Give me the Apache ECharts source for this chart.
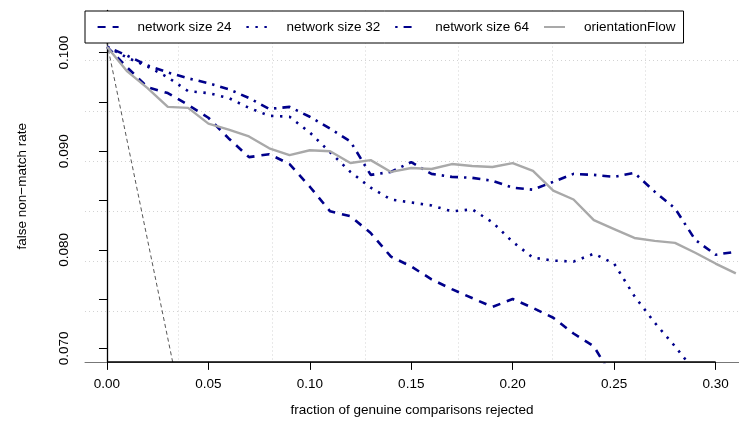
<!DOCTYPE html>
<html><head><meta charset="utf-8">
<script src="https://cdn.jsdelivr.net/npm/echarts@6/dist/echarts.min.js"></script>
<style>html,body{margin:0;padding:0;background:#fff}#c{width:739px;height:430px}</style>
</head><body><div id="c"></div>
<script>
// fraction of genuine comparisons rejected
const xs = [0.00,0.01,0.02,0.03,0.04,0.05,0.06,0.07,0.08,0.09,0.10,0.11,0.12,0.13,0.14,0.15,0.16,0.17,0.18,0.19,0.20,0.21,0.22,0.23,0.24,0.25,0.26,0.27,0.28,0.29,0.30,0.31];
// false non-match rate per series
const net24 = [0.1006,0.0985,0.0965,0.0959,0.0947,0.0934,0.0913,0.0894,0.0897,0.0887,0.0864,0.0839,0.0834,0.0817,0.0793,0.0783,0.0770,0.0760,0.0751,0.0742,0.0750,0.0741,0.0731,0.0715,0.0702,0.0668];
const net32 = [0.1006,0.0995,0.0986,0.0975,0.0961,0.0959,0.0954,0.0944,0.0936,0.0935,0.0919,0.0899,0.0879,0.0863,0.0851,0.0848,0.0845,0.0839,0.0841,0.0828,0.0808,0.0792,0.0789,0.0788,0.0796,0.0786,0.0753,0.0726,0.0702,0.0676];
const net64 = [0.1006,0.0997,0.0987,0.0980,0.0974,0.0969,0.0963,0.0954,0.0943,0.0945,0.0935,0.0923,0.0910,0.0876,0.0879,0.0889,0.0877,0.0874,0.0873,0.0870,0.0863,0.0861,0.0869,0.0877,0.0876,0.0874,0.0878,0.0859,0.0842,0.0810,0.0795,0.0798];
const orientationFlow = [0.1006,0.0981,0.0964,0.0945,0.0944,0.0928,0.0922,0.0915,0.0903,0.0896,0.0901,0.0900,0.0888,0.0891,0.0879,0.0883,0.0882,0.0887,0.0885,0.0884,0.0888,0.0880,0.0860,0.0851,0.0830,0.0821,0.0812,0.0809,0.0807,0.0797,0.0786,0.0776];
// reference line (slope -1)
const refX = [0.00, 0.04];
const refY = [0.101, 0.061];
const seriesNames = ['network size 24','network size 32','network size 64','orientationFlow'];
const xTicks = [0.00,0.05,0.10,0.15,0.20,0.25,0.30];
const yTicks = [0.070,0.075,0.080,0.085,0.090,0.095,0.100];
const yLabels = [0.070,0.080,0.090,0.100];

const X_MIN = -0.01083, X_MAX = 0.31156, Y_MIN = 0.06862, Y_MAX = 0.104283;
const FONT = "'Liberation Sans', Arial, Helvetica, sans-serif";
const NAVY = '#00008B', GRAY = '#a9a9a9';

function pairs(a){ return a.map((v,i)=>[xs[i], v]); }

const chart = echarts.init(document.getElementById('c'), null, {renderer:'canvas'});
const base = {type:'line', symbol:'none', showSymbol:false, animation:false, clip:true};
chart.setOption({
  animation:false,
  backgroundColor:'#fff',
  textStyle:{fontFamily:FONT},
  grid:{left:85, right:-1, top:10.5, bottom:68.1, containLabel:false},
  legend:{
    left:85, top:11, orient:'horizontal',
    data: seriesNames,
    itemWidth:21, itemHeight:14, itemGap:14,
    padding:[9,8,9,11.6],
    borderColor:'#000', borderWidth:1, backgroundColor:'#fff', borderRadius:0,
    itemStyle:{opacity:0, borderWidth:0},
    textStyle:{fontFamily:FONT, fontSize:13.5, color:'#000', width:96, padding:[0,0,0,14]},
    z:10
  },
  xAxis:[
    {type:'value', min:X_MIN, max:X_MAX, position:'bottom',
     name:'fraction of genuine comparisons rejected', nameLocation:'middle', nameGap:41,
     nameTextStyle:{fontFamily:FONT, fontSize:13.5, color:'#000'},
     axisLine:{show:true, lineStyle:{color:'#777', width:1}},
     axisTick:{show:true, length:8, inside:false, customValues:xTicks, lineStyle:{color:'#000', width:1}},
     axisLabel:{show:true, customValues:xTicks, margin:15, fontSize:13.5, color:'#000', fontFamily:FONT,
       formatter:v=>v.toFixed(2)},
     splitLine:{show:false}},
    {type:'value', min:0, max:7, interval:1, position:'top', show:true,
     axisLine:{show:false}, axisTick:{show:false}, axisLabel:{show:false},
     splitLine:{show:true, showMinLine:false, showMaxLine:false, lineStyle:{color:'#d3d3d3', width:1, type:[1,3]}}}
  ],
  yAxis:[
    {type:'value', min:Y_MIN, max:Y_MAX, position:'left',
     name:'false non\u2212match rate', nameLocation:'middle', nameGap:56, nameRotate:90,
     nameTextStyle:{fontFamily:FONT, fontSize:13.5, color:'#000'},
     axisLine:{show:true, lineStyle:{color:'#000', width:1.3}},
     axisTick:{show:true, length:8, inside:false, customValues:yTicks, lineStyle:{color:'#000', width:1}},
     axisLabel:{show:true, customValues:yLabels, rotate:90, margin:14, fontSize:13.5, color:'#000', fontFamily:FONT,
       formatter:v=>v.toFixed(3)},
     splitLine:{show:false}},
    {type:'value', min:0, max:7, interval:1, position:'right', show:true,
     axisLine:{show:false}, axisTick:{show:false}, axisLabel:{show:false},
     splitLine:{show:true, showMinLine:false, showMaxLine:false, lineStyle:{color:'#d3d3d3', width:1, type:[1,3]}}}
  ],
  series:[
    Object.assign({}, base, {name:'reference', data:refX.map((x,i)=>[x,refY[i]]), z:3,
      lineStyle:{color:'#444', width:0.9, type:[4,3]},
      markLine:{silent:true, symbol:'none', label:{show:false}, animation:false,
        lineStyle:{color:'#000', width:1.6, type:'solid'},
        data:[[{coord:[xTicks[0], Y_MIN]},{coord:[xTicks[xTicks.length-1], Y_MIN]}]]}}),
    Object.assign({}, base, {name:seriesNames[0], data:pairs(net24), z:4,
      lineStyle:{color:NAVY, width:2.6, type:[8,7], cap:'butt'}, itemStyle:{color:NAVY}}),
    Object.assign({}, base, {name:seriesNames[1], data:pairs(net32), z:4,
      lineStyle:{color:NAVY, width:2.6, type:[2.4,6.6], cap:'butt'}, itemStyle:{color:NAVY}}),
    Object.assign({}, base, {name:seriesNames[2], data:pairs(net64), z:4,
      lineStyle:{color:NAVY, width:2.6, type:[2.4,6,8,6], cap:'butt'}, itemStyle:{color:NAVY}}),
    Object.assign({}, base, {name:seriesNames[3], data:pairs(orientationFlow), z:4,
      lineStyle:{color:GRAY, width:2.4, type:'solid'}, itemStyle:{color:GRAY}})
  ]
});
</script></body></html>
